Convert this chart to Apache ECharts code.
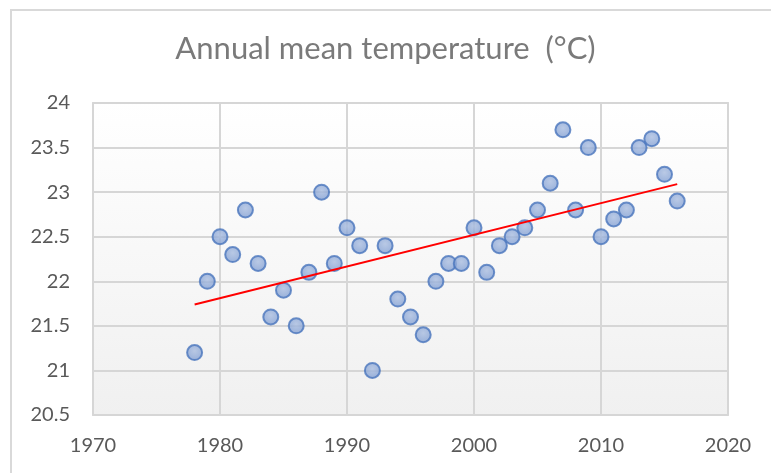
<!DOCTYPE html>
<html>
<head>
<meta charset="utf-8">
<script src="https://cdn.jsdelivr.net/npm/echarts@6/dist/echarts.min.js"></script>
<style>
  html, body { margin: 0; padding: 0; background: #fff; }
  #box { width: 771px; height: 473px; }
</style>
</head>
<body>
<div id="box"></div>
<script>
// data
var years = [1978, 1979, 1980, 1981, 1982, 1983, 1984, 1985, 1986, 1987, 1988, 1989, 1990,
  1991, 1992, 1993, 1994, 1995, 1996, 1997, 1998, 1999, 2000, 2001, 2002, 2003, 2004,
  2005, 2006, 2007, 2008, 2009, 2010, 2011, 2012, 2013, 2014, 2015, 2016];
var temps = [21.2, 22.0, 22.5, 22.3, 22.8, 22.2, 21.6, 21.9, 21.5, 22.1, 23.0, 22.2, 22.6,
  22.4, 21.0, 22.4, 21.8, 21.6, 21.4, 22.0, 22.2, 22.2, 22.6, 22.1, 22.4, 22.5, 22.6,
  22.8, 23.1, 23.7, 22.8, 23.5, 22.5, 22.7, 22.8, 23.5, 23.6, 23.2, 22.9];
// trendline end points
var trendYears = [1978, 2016];
var trendTemps = [21.74, 23.09];

var points = years.map(function (y, i) { return [y, temps[i]]; });
var trend = trendYears.map(function (y, i) { return [y, trendTemps[i]]; });

var font = 'Lato, "Open Sans", sans-serif';
var myChart = echarts.init(document.getElementById('box'));
myChart.setOption({
  animation: false,
  title: {
    text: 'Annual mean temperature  (°C)',
    left: 'center',
    top: 28,
    textStyle: { color: '#7a7a7a', fontSize: 31, fontWeight: 'normal', fontFamily: font }
  },
  graphic: [{
    type: 'rect',
    shape: { x: 11, y: 10, width: 800, height: 500 },
    style: { fill: 'none', stroke: '#d9d9d9', lineWidth: 2 },
    silent: true
  }],
  grid: {
    left: 93, right: 43, top: 103, bottom: 58,
    show: true,
    borderColor: '#d9d9d9',
    borderWidth: 2,
    backgroundColor: {
      type: 'linear', x: 0, y: 0, x2: 0, y2: 1,
      colorStops: [{ offset: 0, color: '#ffffff' }, { offset: 1, color: '#f0f0f0' }]
    }
  },
  xAxis: {
    type: 'value',
    min: 1970, max: 2020, interval: 10,
    axisLine: { show: false },
    axisTick: { show: false },
    splitLine: { lineStyle: { color: '#d6d6d6', width: 2 } },
    axisLabel: {
      color: '#595959', fontSize: 20, fontFamily: font, margin: 21,
      formatter: function (v) { return String(v); }
    }
  },
  yAxis: {
    type: 'value',
    min: 20.5, max: 24, interval: 0.5,
    axisLine: { show: false },
    axisTick: { show: false },
    splitLine: { lineStyle: { color: '#d6d6d6', width: 2 } },
    axisLabel: { color: '#595959', fontSize: 20, fontFamily: font, margin: 23 }
  },
  series: [{
    type: 'line',
    data: trend,
    symbol: 'none',
    lineStyle: { color: '#ff0000', width: 2 },
    z: 3
  }, {
    type: 'scatter',
    data: points,
    symbolSize: 15,
    itemStyle: {
      color: {
        type: 'radial', x: 0.5, y: 0.4, r: 0.6,
        colorStops: [{ offset: 0, color: '#a9bde0' }, { offset: 1, color: '#7f9dd2' }]
      },
      borderColor: '#4a76bd',
      borderWidth: 2
    },
    z: 2
  }]
});
</script>
</body>
</html>
